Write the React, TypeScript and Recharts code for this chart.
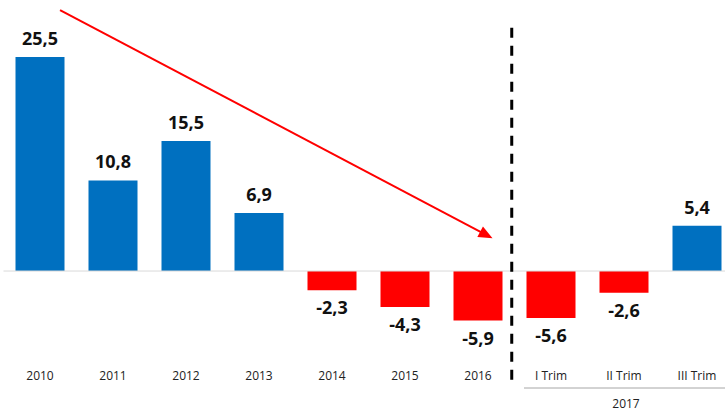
import React from 'react';
import { BarChart, Bar, XAxis, YAxis, ReferenceLine, LabelList, Cell } from 'recharts';

const categories = ['2010', '2011', '2012', '2013', '2014', '2015', '2016', 'I Trim', 'II Trim', 'III Trim'];
const values = [25.5, 10.8, 15.5, 6.9, -2.3, -4.3, -5.9, -5.6, -2.6, 5.4];
const groupLabel = '2017';

// arrow + separator in data units (hidden numeric x axis 0..9, y axis values)
const arrowFrom = { x: 0.697, y: 31.1 };
const arrowTo = { x: 6.029, y: 3.9 };
const separatorX = 6.266;
const separatorY = [29, -13.4];

const BLUE = '#0070C0';
const RED = '#FF0000';
const FONT = '"Open Sans", "Liberation Sans", sans-serif';

const data = categories.map((name, i) => ({ name, value: values[i] }));

const fmt = (v: number) => v.toFixed(1).replace('.', ',');

const ValueLabel = (props: any) => {
  const { x, y, width, height, value } = props;
  const top = Math.min(y, y + height);
  const bottom = Math.max(y, y + height);
  const ty = value >= 0 ? top - 12 : bottom + 24;
  return (
    <text x={x + width / 2} y={ty} textAnchor="middle" fontFamily={FONT} fontWeight={700} fontSize={18} fill="#111">
      {fmt(value)}
    </text>
  );
};

const CategoryTick = (props: any) => {
  const { x, y, payload } = props;
  const isMid = payload.value === 'II Trim';
  return (
    <g>
      <text x={x} y={y - 8.5} textAnchor="middle" fontFamily={FONT} fontSize={12} fill="#222">
        {payload.value}
      </text>
      {isMid && (
        <g>
          <line x1={x - 100} x2={x + 120} y1={y - 0.5} y2={y - 0.5} stroke="#a6a6a6" strokeWidth={1} />
          <text x={x + 2} y={y + 19.5} textAnchor="middle" fontFamily={FONT} fontSize={12} fill="#222">
            {groupLabel}
          </text>
        </g>
      )}
    </g>
  );
};

const ArrowShape = (props: any) => {
  const { x1, y1, x2, y2 } = props;
  const dx = x2 - x1;
  const dy = y2 - y1;
  const len = Math.sqrt(dx * dx + dy * dy);
  const ux = dx / len;
  const uy = dy / len;
  const headLen = 14;
  const headHalf = 6;
  const bx = x2 - ux * headLen;
  const by = y2 - uy * headLen;
  const pts = `${x2},${y2} ${bx - uy * headHalf},${by + ux * headHalf} ${bx + uy * headHalf},${by - ux * headHalf}`;
  return (
    <g>
      <line x1={x1} y1={y1} x2={bx + ux * 2} y2={by + uy * 2} stroke={RED} strokeWidth={2} />
      <polygon points={pts} fill={RED} />
    </g>
  );
};

export default function App() {
  return (
    <div style={{ position: 'absolute', left: 0, top: 0, width: 725, height: 414, overflow: 'hidden', background: '#fff' }}>
      <BarChart
        width={745}
        height={414}
        data={data}
        margin={{ top: 2.5, right: 11.5, left: 3.5, bottom: 5.5 }}
        barSize={49}
      >
        <XAxis
          dataKey="name"
          axisLine={false}
          tickLine={false}
          tickSize={0}
          tickMargin={0}
          height={20}
          interval={0}
          tick={<CategoryTick />}
        />
        <XAxis xAxisId="num" type="number" domain={[0, 9]} hide allowDataOverflow />
        <YAxis hide domain={[-14, 32]} allowDataOverflow />
        <ReferenceLine y={0} stroke="#d9d9d9" strokeWidth={1} />
        <Bar dataKey="value" isAnimationActive={false}>
          {data.map((d) => (
            <Cell key={d.name} fill={d.value >= 0 ? BLUE : RED} />
          ))}
          <LabelList dataKey="value" content={<ValueLabel />} />
        </Bar>
        <ReferenceLine
          xAxisId="num"
          segment={[
            { x: separatorX, y: separatorY[0] },
            { x: separatorX, y: separatorY[1] },
          ]}
          stroke="#000"
          strokeWidth={3}
          strokeDasharray="10 8"
          ifOverflow="visible"
        />
        <ReferenceLine
          xAxisId="num"
          segment={[arrowFrom, arrowTo]}
          ifOverflow="visible"
          shape={<ArrowShape />}
        />
      </BarChart>
    </div>
  );
}
